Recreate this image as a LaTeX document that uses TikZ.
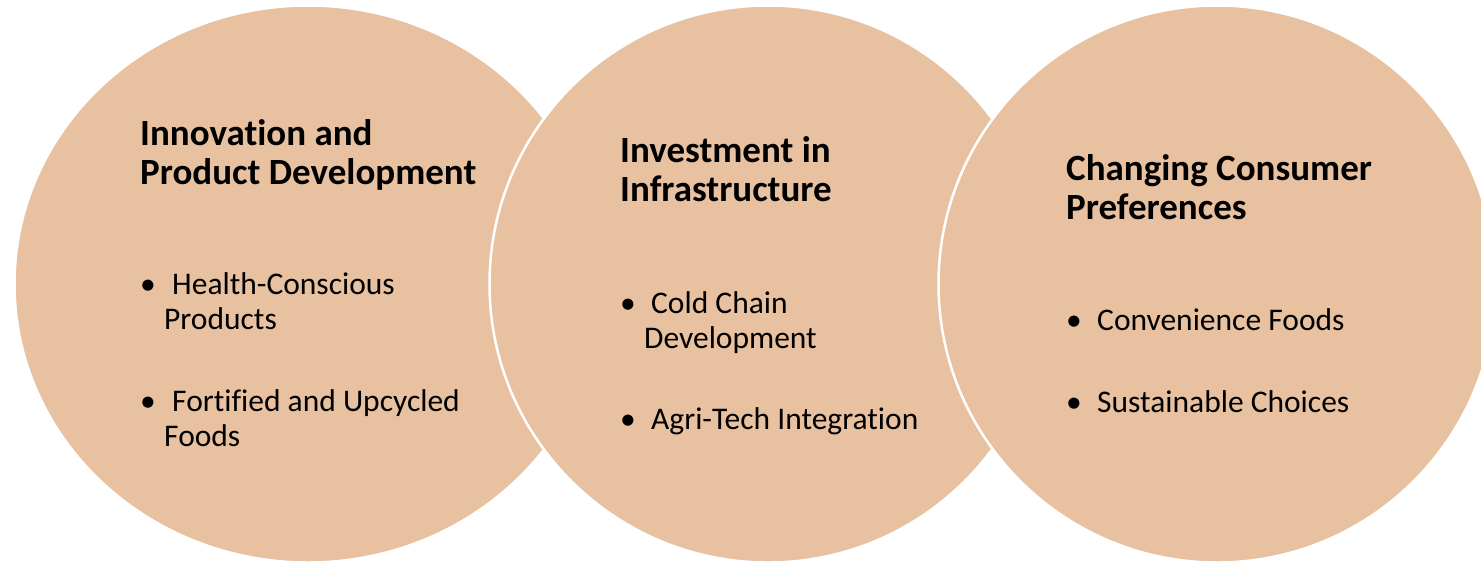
\documentclass[tikz,border=0pt]{standalone}
\usepackage{fontspec}
\setmainfont{Carlito}[Ligatures={NoCommon}]
\usetikzlibrary{shapes.geometric}
\definecolor{peach}{RGB}{232,193,161}
\begin{document}
\begin{tikzpicture}[x=1pt,y=-1pt,
  disc/.style={ellipse,fill=peach,draw=white,line width=2.5pt,minimum height=557pt,minimum width=557pt,inner sep=0pt},
  ttl/.style={anchor=base west,inner sep=0pt,font=\fontsize{37}{40}\selectfont\bfseries},
  txt/.style={anchor=base west,inner sep=0pt,font=\fontsize{31.5}{35}\selectfont},
  blt/.style={anchor=base,inner sep=0pt,font=\fontsize{31.5}{35}\selectfont}]
\useasboundingbox (0,0) rectangle (1481,566);
\node[disc,minimum width=587pt] (c1) at (308,284) {};
\node[disc] (c2) at (768,284) {};
\node[disc] (c3) at (1217,284) {};
% circle 1
\node[ttl] (t1a) at (140,145) {Innovation and};
\node[ttl] (t1b) at (140,184) {Product Development};
\node[blt] (b1a) at (148,294) {•};
\node[txt] (l1a) at (172,294) {Health-Conscious};
\node[txt] (l1b) at (164,329) {Products};
\node[blt] (b1b) at (148,411) {•};
\node[txt] (l1c) at (172,411) {Fortified and Upcycled};
\node[txt] (l1d) at (164,446) {Foods};
% circle 2
\node[ttl] (t2a) at (620,162) {Investment in};
\node[ttl] (t2b) at (620,201) {Infrastructure};
\node[blt] (b2a) at (628,313) {•};
\node[txt] (l2a) at (651,313) {Cold Chain};
\node[txt] (l2b) at (644,348) {Development};
\node[blt] (b2b) at (628,429) {•};
\node[txt] (l2c) at (651,429) {Agri-Tech Integration};
% circle 3
\node[ttl] (t3a) at (1066,180) {Changing Consumer};
\node[ttl] (t3b) at (1066,219) {Preferences};
\node[blt] (b3a) at (1074,330) {•};
\node[txt] (l3a) at (1097,330) {Convenience Foods};
\node[blt] (b3b) at (1074,412) {•};
\node[txt] (l3b) at (1097,412) {Sustainable Choices};
\end{tikzpicture}
\end{document}
